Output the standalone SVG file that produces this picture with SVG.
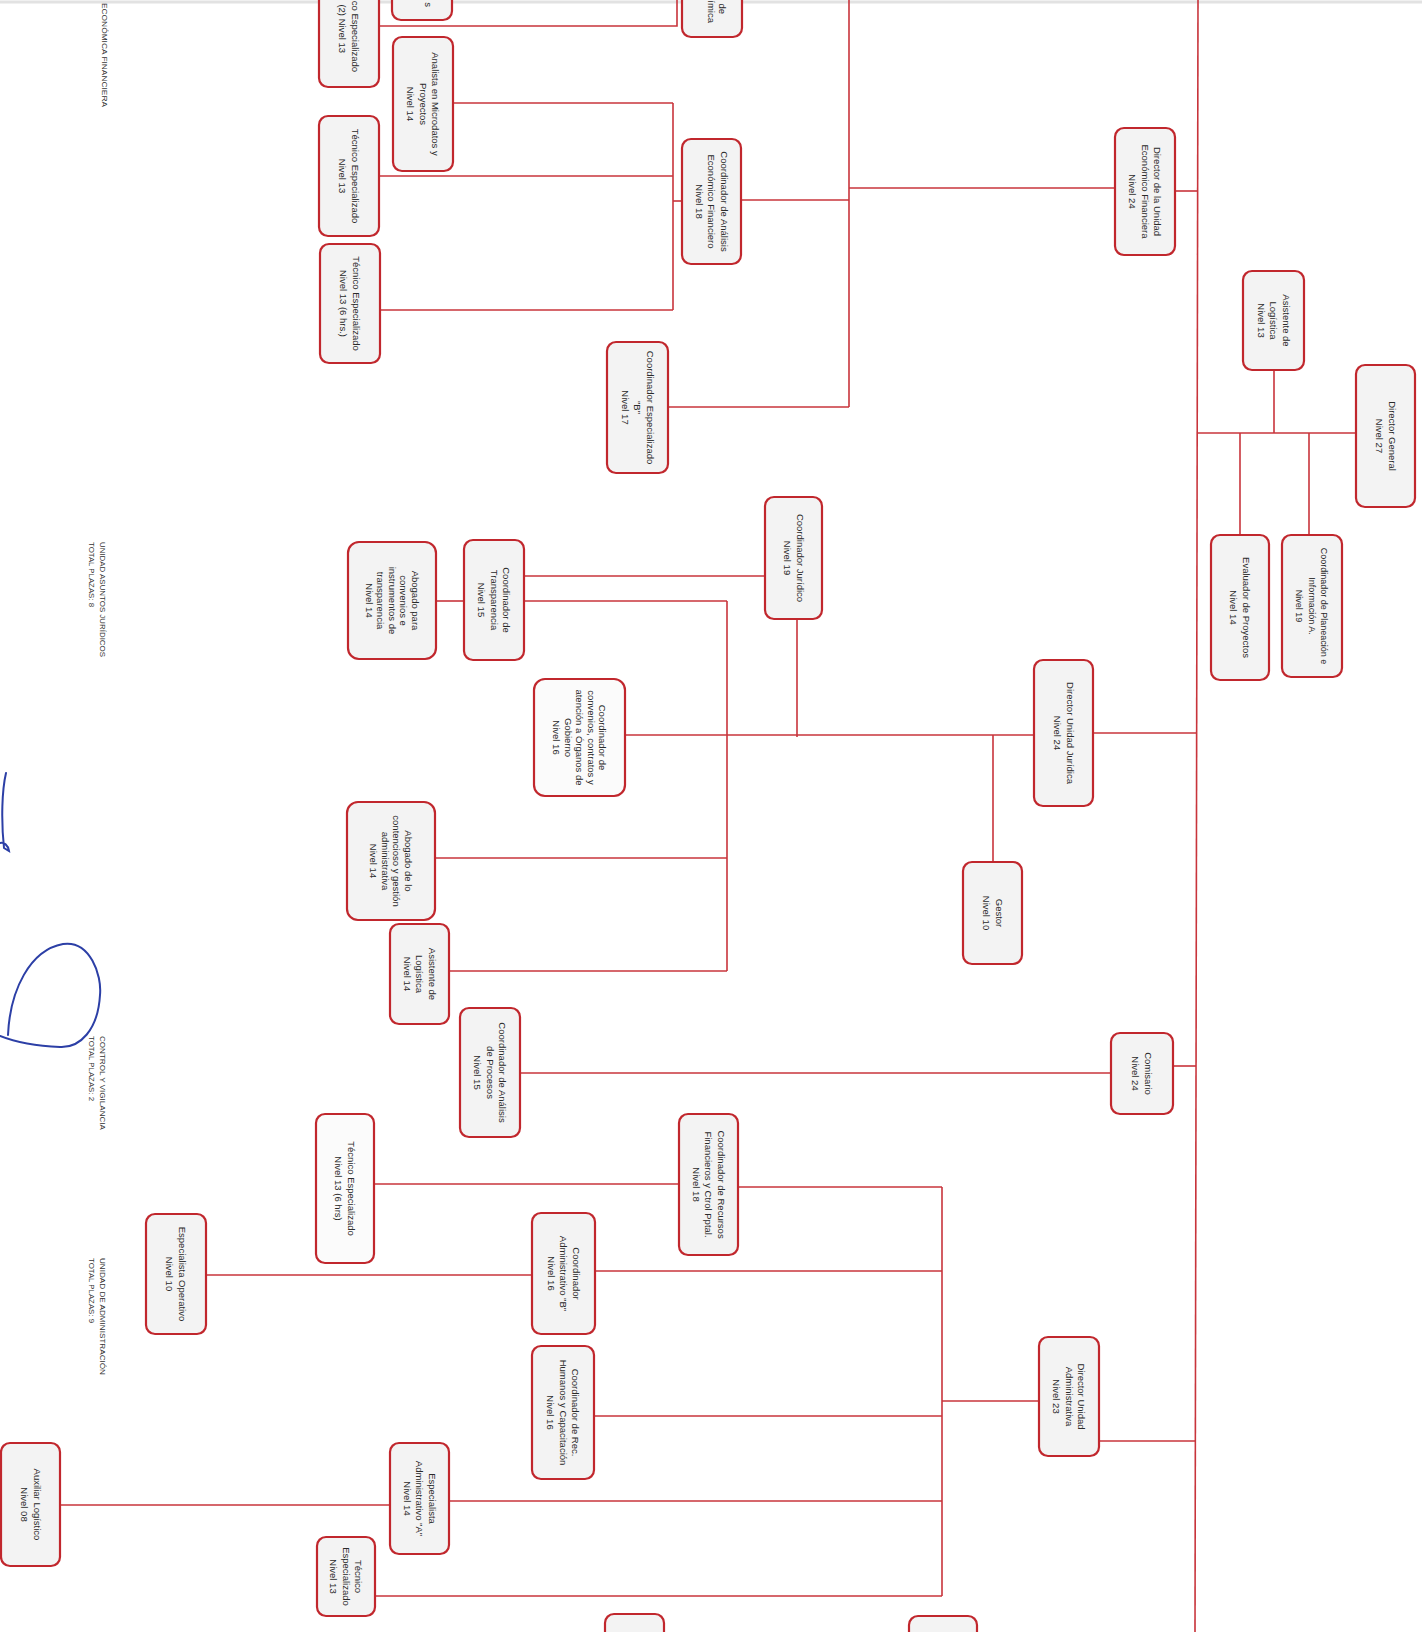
<svg xmlns="http://www.w3.org/2000/svg" width="1422" height="1632" viewBox="0 0 1422 1632">
<style>
.box{fill:#f3f3f3;stroke:#c1272d;stroke-width:2.2}
.ln{stroke:#c8343b;stroke-width:1.6;fill:none}
.t{font-family:"Liberation Sans",Arial,sans-serif;font-size:9.5px;fill:#2a2a2a;text-anchor:middle}
.e{text-anchor:end}
.lab{font-family:"Liberation Sans",Arial,sans-serif;font-size:7.6px;fill:#333}
.sig{fill:none;stroke:#2c3fa6;stroke-width:2;stroke-linecap:round}
</style>
<rect x="0" y="0" width="1422" height="1632" fill="#ffffff"/>
<line x1="0" y1="2" x2="1422" y2="2" stroke="#e2e2e2" stroke-width="3"/>

<g id="connectors">
<path class="ln" d="M1198 0 L1195 1632"/>
<path class="ln" d="M1198 433 H1356"/>
<path class="ln" d="M1274 370 V433"/>
<path class="ln" d="M1309 433 V535"/>
<path class="ln" d="M1240 433 V535"/>
<path class="ln" d="M1175 191 H1198"/>
<path class="ln" d="M1115 188 H849"/>
<path class="ln" d="M849 0 V407"/>
<path class="ln" d="M668 407 H849"/>
<path class="ln" d="M741 200 H849"/>
<path class="ln" d="M673 103 V310"/>
<path class="ln" d="M673 201 H682"/>
<path class="ln" d="M453 103 H673"/>
<path class="ln" d="M379 176 H673"/>
<path class="ln" d="M380 310 H673"/>
<path class="ln" d="M379 26 H677 V0"/>
<path class="ln" d="M1093 733 H1197"/>
<path class="ln" d="M1034 735 H625"/>
<path class="ln" d="M993 735 V862"/>
<path class="ln" d="M797 619 V737"/>
<path class="ln" d="M765 576 H524"/>
<path class="ln" d="M524 601 H727"/>
<path class="ln" d="M727 601 V971"/>
<path class="ln" d="M436 601 H464"/>
<path class="ln" d="M435 858 H727"/>
<path class="ln" d="M449 971 H727"/>
<path class="ln" d="M1173 1066 H1196"/>
<path class="ln" d="M1111 1073 H520"/>
<path class="ln" d="M1099 1441 H1196"/>
<path class="ln" d="M1039 1401 H942"/>
<path class="ln" d="M942 1187 V1596"/>
<path class="ln" d="M738 1187 H942"/>
<path class="ln" d="M679 1184 H374"/>
<path class="ln" d="M595 1271 H942"/>
<path class="ln" d="M532 1275 H206"/>
<path class="ln" d="M594 1416 H942"/>
<path class="ln" d="M449 1501 H942"/>
<path class="ln" d="M390 1505 H60"/>
<path class="ln" d="M375 1596 H942"/>
</g>

<g id="n-dg"><rect class="box" x="1356" y="365" width="59" height="142" rx="9"/>
<text class="t" transform="translate(1385.5,436) rotate(90)"><tspan x="0" y="-3">Director General</tspan><tspan x="0" y="9.6">Nivel 27</tspan></text></g>
<g id="n-alog13"><rect class="box" x="1243" y="271" width="61" height="99" rx="9"/>
<text class="t" transform="translate(1273.5,320.5) rotate(90)"><tspan x="0" y="-9.2">Asistente de</tspan><tspan x="0" y="3.3">Logística</tspan><tspan x="0" y="15.8">Nivel 13</tspan></text></g>
<g id="n-cplan"><rect class="box" x="1282" y="535" width="60" height="142" rx="9"/>
<text class="t" style="font-size:9px" transform="translate(1312,606) rotate(90)"><tspan x="0" y="-9.2">Coordinador de Planeación e</tspan><tspan x="0" y="3.3">Información A.</tspan><tspan x="0" y="15.8">Nivel 19</tspan></text></g>
<g id="n-eval"><rect class="box" x="1211" y="535" width="58" height="145" rx="9"/>
<text class="t" transform="translate(1240,607.5) rotate(90)"><tspan x="0" y="-3">Evaluador de Proyectos</tspan><tspan x="0" y="9.6">Nivel 14</tspan></text></g>

<g id="n-duef"><rect class="box" x="1115" y="128" width="60" height="127" rx="9"/>
<text class="t" transform="translate(1145,191.5) rotate(90)"><tspan x="0" y="-9.2">Director de la Unidad</tspan><tspan x="0" y="3.3">Económico Financiera</tspan><tspan x="0" y="15.8">Nivel 24</tspan></text></g>
<g id="n-caef"><rect class="box" x="682" y="139" width="59" height="125" rx="9"/>
<text class="t" transform="translate(711.5,201.5) rotate(90)"><tspan x="0" y="-9.2">Coordinador de Análisis</tspan><tspan x="0" y="3.3">Económico Financiero</tspan><tspan x="0" y="15.8">Nivel 18</tspan></text></g>
<g id="n-ceb"><rect class="box" x="607" y="342" width="61" height="131" rx="9"/>
<text class="t" transform="translate(637.5,407.5) rotate(90)"><tspan x="0" y="-9.2">Coordinador Especializado</tspan><tspan x="0" y="3.3">"B"</tspan><tspan x="0" y="15.8">Nivel 17</tspan></text></g>
<g id="n-analista"><rect class="box" x="393" y="37" width="60" height="134" rx="9"/>
<text class="t" transform="translate(423,104) rotate(90)"><tspan x="0" y="-9.2">Analista en Microdatos y</tspan><tspan x="0" y="3.3">Proyectos</tspan><tspan x="0" y="15.8">Nivel 14</tspan></text></g>
<g id="n-tec13"><rect class="box" x="319" y="116" width="60" height="120" rx="9"/>
<text class="t" transform="translate(349,176) rotate(90)"><tspan x="0" y="-3">Técnico Especializado</tspan><tspan x="0" y="9.6">Nivel 13</tspan></text></g>
<g id="n-tec13-6"><rect class="box" x="320" y="244" width="60" height="119" rx="9"/>
<text class="t" transform="translate(350,303.5) rotate(90)"><tspan x="0" y="-3">Técnico Especializado</tspan><tspan x="0" y="9.6">Nivel 13 (6 hrs.)</tspan></text></g>
<g id="n-top-ico"><rect class="box" x="319" y="-40" width="60" height="127" rx="9"/>
<text class="t e" transform="translate(355,0) rotate(90)" x="72" y="3.3">ico Especializado</text>
<text class="t e" transform="translate(342,0) rotate(90)" x="53" y="3.3">(2) Nivel 13</text></g>
<g id="n-top-s"><rect class="box" x="392" y="-40" width="60" height="60" rx="9"/>
<text class="t e" transform="translate(428,0) rotate(90)" x="7" y="3.3">s</text></g>
<g id="n-top-de"><rect class="box" x="682" y="-40" width="60" height="77" rx="9"/>
<text class="t e" transform="translate(722,0) rotate(90)" x="14" y="3.3">de</text>
<text class="t e" transform="translate(711,0) rotate(90)" x="23" y="3.3">ímica</text></g>

<g id="n-duj"><rect class="box" x="1034" y="660" width="59" height="146" rx="9"/>
<text class="t" transform="translate(1063.5,733) rotate(90)"><tspan x="0" y="-3">Director Unidad Jurídica</tspan><tspan x="0" y="9.6">Nivel 24</tspan></text></g>
<g id="n-gestor"><rect class="box" x="963" y="862" width="59" height="102" rx="9"/>
<text class="t" transform="translate(992.5,913) rotate(90)"><tspan x="0" y="-3">Gestor</tspan><tspan x="0" y="9.6">Nivel 10</tspan></text></g>
<g id="n-cjur"><rect class="box" x="765" y="497" width="57" height="122" rx="9"/>
<text class="t" transform="translate(793.5,558) rotate(90)"><tspan x="0" y="-3">Coordinador Jurídico</tspan><tspan x="0" y="9.6">Nivel 19</tspan></text></g>
<g id="n-cconv"><rect class="box" x="534" y="679" width="91" height="117" rx="11" style="fill:#fbfbfb"/>
<text class="t" transform="translate(579.5,737.5) rotate(90)"><tspan x="0" y="-19.7">Coordinador de</tspan><tspan x="0" y="-8.2">convenios, contratos y</tspan><tspan x="0" y="3.3">atención a Órganos de</tspan><tspan x="0" y="14.8">Gobierno</tspan><tspan x="0" y="26.3">Nivel 16</tspan></text></g>
<g id="n-ctrans"><rect class="box" x="464" y="540" width="60" height="120" rx="9"/>
<text class="t" transform="translate(494,600) rotate(90)"><tspan x="0" y="-9.2">Coordinador de</tspan><tspan x="0" y="3.3">Transparencia</tspan><tspan x="0" y="15.8">Nivel 15</tspan></text></g>
<g id="n-abconv"><rect class="box" x="348" y="542" width="88" height="117" rx="11"/>
<text class="t" transform="translate(392,600.5) rotate(90)"><tspan x="0" y="-19.7">Abogado para</tspan><tspan x="0" y="-8.2">convenios e</tspan><tspan x="0" y="3.3">instrumentos de</tspan><tspan x="0" y="14.8">transparencia</tspan><tspan x="0" y="26.3">Nivel 14</tspan></text></g>
<g id="n-abcont"><rect class="box" x="347" y="802" width="88" height="118" rx="11"/>
<text class="t" transform="translate(391,861) rotate(90)"><tspan x="0" y="-13.95">Abogado de lo</tspan><tspan x="0" y="-2.45">contencioso y gestión</tspan><tspan x="0" y="9.05">administrativa</tspan><tspan x="0" y="20.55">Nivel 14</tspan></text></g>
<g id="n-alog14"><rect class="box" x="390" y="924" width="59" height="100" rx="9"/>
<text class="t" transform="translate(419.5,974) rotate(90)"><tspan x="0" y="-9.2">Asistente de</tspan><tspan x="0" y="3.3">Logística</tspan><tspan x="0" y="15.8">Nivel 14</tspan></text></g>

<g id="n-comis"><rect class="box" x="1111" y="1033" width="62" height="81" rx="9"/>
<text class="t" transform="translate(1142,1073.5) rotate(90)"><tspan x="0" y="-3">Comisario</tspan><tspan x="0" y="9.6">Nivel 24</tspan></text></g>
<g id="n-cproc"><rect class="box" x="460" y="1008" width="60" height="129" rx="9"/>
<text class="t" transform="translate(490,1072.5) rotate(90)"><tspan x="0" y="-9.2">Coordinador de Análisis</tspan><tspan x="0" y="3.3">de Procesos</tspan><tspan x="0" y="15.8">Nivel 15</tspan></text></g>

<g id="n-dua"><rect class="box" x="1039" y="1337" width="60" height="119" rx="9"/>
<text class="t" transform="translate(1069,1396.5) rotate(90)"><tspan x="0" y="-9.2">Director Unidad</tspan><tspan x="0" y="3.3">Administrativa</tspan><tspan x="0" y="15.8">Nivel 23</tspan></text></g>
<g id="n-crf"><rect class="box" x="679" y="1114" width="59" height="141" rx="9"/>
<text class="t" transform="translate(708.5,1184.5) rotate(90)"><tspan x="0" y="-9.2">Coordinador de Recursos</tspan><tspan x="0" y="3.3">Financieros y Ctrol Pptal.</tspan><tspan x="0" y="15.8">Nivel 18</tspan></text></g>
<g id="n-tec6a"><rect class="box" x="316" y="1114" width="58" height="149" rx="9" style="fill:#fbfbfb"/>
<text class="t" transform="translate(345,1188.5) rotate(90)"><tspan x="0" y="-3">Técnico Especializado</tspan><tspan x="0" y="9.6">Nivel 13 (6 hrs)</tspan></text></g>
<g id="n-cab"><rect class="box" x="532" y="1213" width="63" height="121" rx="9"/>
<text class="t" transform="translate(563.5,1273.5) rotate(90)"><tspan x="0" y="-9.2">Coordinador</tspan><tspan x="0" y="3.3">Administrativo "B"</tspan><tspan x="0" y="15.8">Nivel 16</tspan></text></g>
<g id="n-espop"><rect class="box" x="146" y="1214" width="60" height="120" rx="9"/>
<text class="t" transform="translate(176,1274) rotate(90)"><tspan x="0" y="-3">Especialista Operativo</tspan><tspan x="0" y="9.6">Nivel 10</tspan></text></g>
<g id="n-crh"><rect class="box" x="532" y="1346" width="62" height="133" rx="9"/>
<text class="t" transform="translate(563,1412.5) rotate(90)"><tspan x="0" y="-9.2">Coordinador de Rec.</tspan><tspan x="0" y="3.3">Humanos y Capacitación</tspan><tspan x="0" y="15.8">Nivel 16</tspan></text></g>
<g id="n-eaa"><rect class="box" x="390" y="1443" width="59" height="111" rx="9"/>
<text class="t" transform="translate(419.5,1498.5) rotate(90)"><tspan x="0" y="-9.2">Especialista</tspan><tspan x="0" y="3.3">Administrativo "A"</tspan><tspan x="0" y="15.8">Nivel 14</tspan></text></g>
<g id="n-aux"><rect class="box" x="1" y="1443" width="59" height="123" rx="9"/>
<text class="t" transform="translate(30.5,1504.5) rotate(90)"><tspan x="0" y="-3">Auxiliar Logístico</tspan><tspan x="0" y="9.6">Nivel 08</tspan></text></g>
<g id="n-tecb"><rect class="box" x="317" y="1537" width="58" height="79" rx="9"/>
<text class="t" transform="translate(346,1576.5) rotate(90)"><tspan x="0" y="-9.2">Técnico</tspan><tspan x="0" y="3.3">Especializado</tspan><tspan x="0" y="15.8">Nivel 13</tspan></text></g>
<g id="n-bot1"><rect class="box" x="605" y="1614" width="59" height="60" rx="9"/></g>
<g id="n-bot2"><rect class="box" x="909" y="1616" width="68" height="60" rx="9"/></g>

<g id="labels">
<text class="lab" transform="translate(102,3) rotate(90)" x="0" y="0" textLength="104" lengthAdjust="spacingAndGlyphs">ECONÓMICA FINANCIERA</text>
<text class="lab" transform="translate(100,542) rotate(90)" x="0" y="0" textLength="115" lengthAdjust="spacingAndGlyphs">UNIDAD ASUNTOS JURÍDICOS</text>
<text class="lab" transform="translate(89,542) rotate(90)" x="0" y="0" textLength="65" lengthAdjust="spacingAndGlyphs">TOTAL PLAZAS: 8</text>
<text class="lab" transform="translate(100,1036) rotate(90)" x="0" y="0" textLength="94" lengthAdjust="spacingAndGlyphs">CONTROL Y VIGILANCIA</text>
<text class="lab" transform="translate(89,1036) rotate(90)" x="0" y="0" textLength="65" lengthAdjust="spacingAndGlyphs">TOTAL PLAZAS: 2</text>
<text class="lab" transform="translate(100,1258) rotate(90)" x="0" y="0" textLength="117" lengthAdjust="spacingAndGlyphs">UNIDAD DE ADMINISTRACIÓN</text>
<text class="lab" transform="translate(89,1258) rotate(90)" x="0" y="0" textLength="65" lengthAdjust="spacingAndGlyphs">TOTAL PLAZAS: 9</text>
</g>

<g id="signature">
<path class="sig" d="M8 1035 C10 990 30 950 63 944 C90 940 102 975 100 995 C98 1030 80 1048 60 1047 C35 1046 15 1042 0 1036"/>
<path class="sig" d="M6 773 C2 790 1 820 4 848 L9 851 C8 845 4 842 0 843"/>
</g>
</svg>
